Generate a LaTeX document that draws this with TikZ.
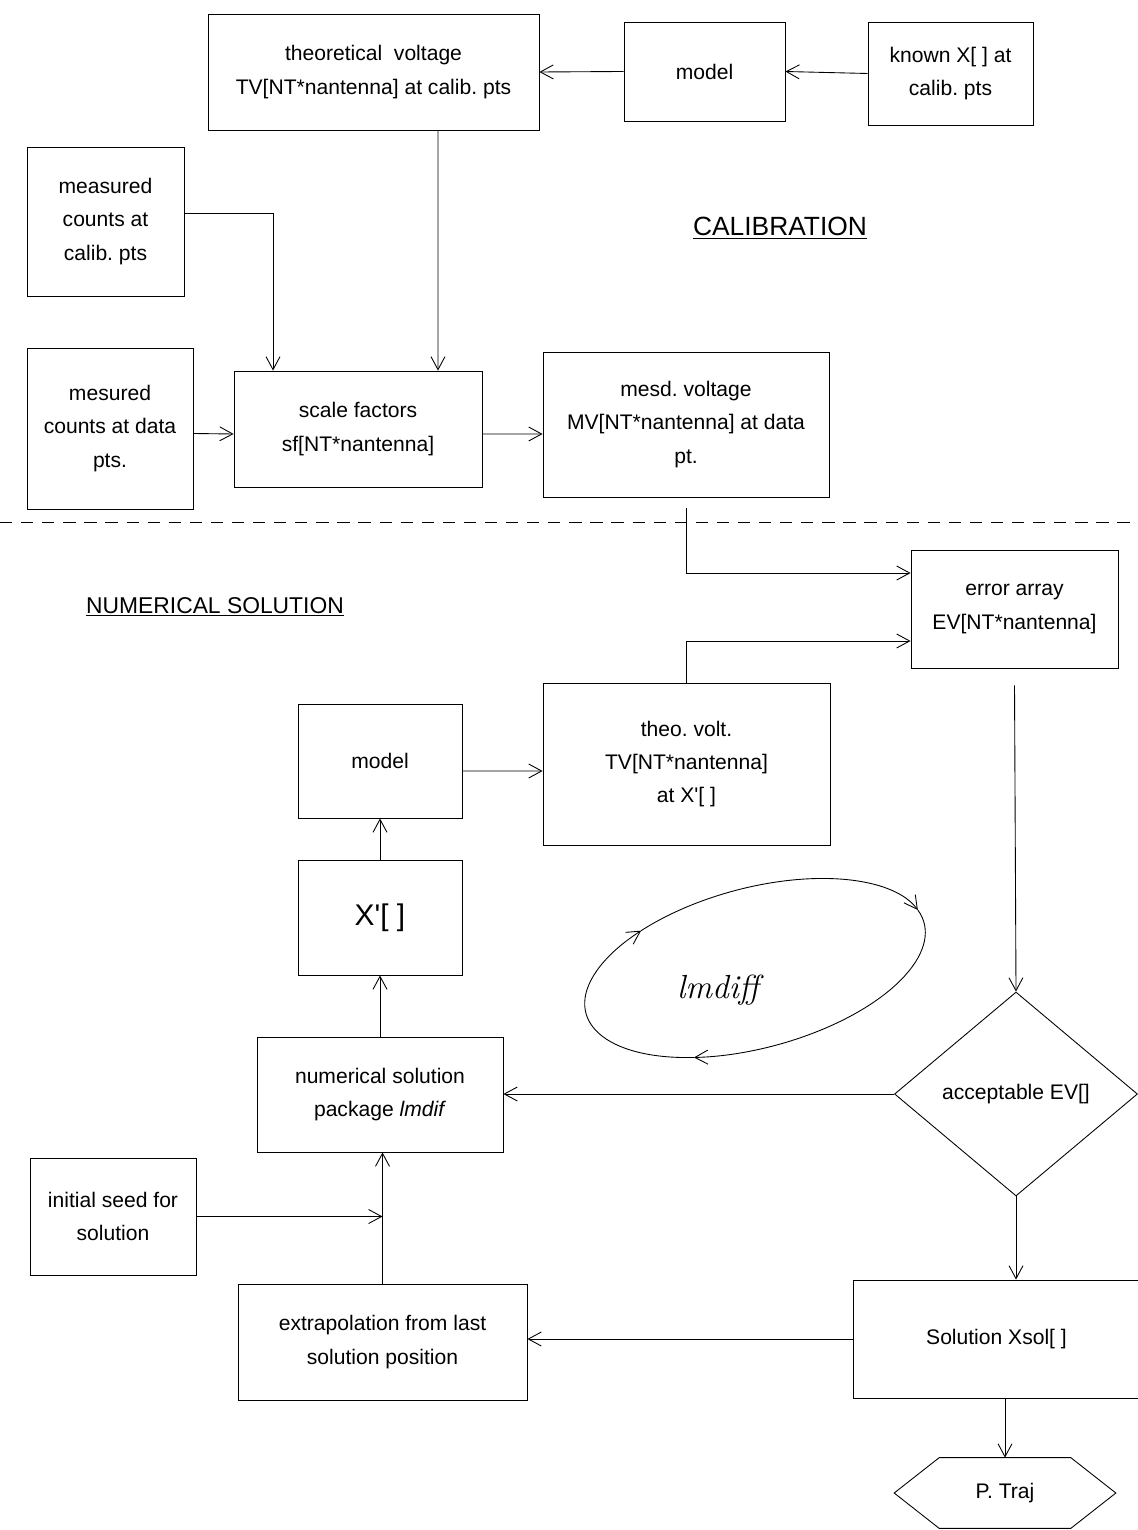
\documentclass[tikz,border=0pt]{standalone}
\usepackage{fontspec}
\setsansfont{Liberation Sans}
\usetikzlibrary{calc,
	positioning,
	shapes,
	arrows.meta}
\frenchspacing
\newcommand{\boxfont}{\sffamily\fontsize{12}{19}\selectfont}
\tikzstyle{blk}=[draw, line width=0.5pt, inner sep=2pt, align=center, font=\boxfont]
\tikzstyle{lbl}=[inner sep=0pt, align=center]
\tikzstyle{con}=[line width=0.5pt, ->]
\tikzstyle{dec}=[draw, shape=diamond, line width=0.5pt, inner sep=0pt, align=center, font=\boxfont]

\begin{document}
\begin{tikzpicture}[x=0.02cm, y=-0.02cm, >={Straight Barb[length=2.6mm,width=2.8mm]}]
\useasboundingbox (0,0) rectangle (1138,1530);

\node[blk, minimum width=6.62cm, minimum height=2.32cm] (tv) at (373.5,72) {theoretical\ \ voltage\\TV[NT*nantenna] at calib. pts};
\node[blk, minimum width=3.22cm, minimum height=1.98cm] (mdl1) at (704.5,71.5) {model};
\node[blk, minimum width=3.3cm, minimum height=2.06cm] (known) at (950.5,73.5) {known X[ ] at\\calib. pts};
\node[blk, minimum width=3.14cm, minimum height=2.98cm] (meas) at (105.5,221.5) {measured\\counts at\\calib. pts};
\node[blk, minimum width=3.32cm, minimum height=3.22cm] (mesured) at (110,428.5) {mesured\\counts at data\\pts.};
\node[blk, minimum width=4.96cm, minimum height=2.32cm] (scale) at (358,429) {scale factors\\sf[NT*nantenna]};
\node[blk, minimum width=5.72cm, minimum height=2.9cm] (mesd) at (686,424.5) {mesd. voltage\\MV[NT*nantenna] at data\\pt.};

\node[lbl, font=\sffamily\fontsize{15}{18}\selectfont] (cal) at (780,228) {\underline{CALIBRATION}};
\draw[line width=0.5pt, dash pattern=on 7pt off 5pt] (0,522) -- (1138,522);
\node[lbl, font=\sffamily\fontsize{13}{16}\selectfont] (num) at (215,607) {\underline{NUMERICAL SOLUTION}};

\node[blk, minimum width=4.14cm, minimum height=2.36cm] (error) at (1014.5,609) {error array\\EV[NT*nantenna]};
\node[blk, minimum width=3.28cm, minimum height=2.28cm] (mdl2) at (380,761) {model};
\node[blk, minimum width=5.74cm, minimum height=3.24cm] (theo) at (686.5,764) {theo. volt.\\TV[NT*nantenna]\\at X\textquotesingle[ ]};
\node[blk, minimum width=3.28cm, minimum height=2.3cm, font=\sffamily\fontsize{17}{20}\selectfont] (xp) at (380,917.5) {X\textquotesingle[ ]};
\node[blk, minimum width=4.92cm, minimum height=2.3cm] (pkg) at (380,1094.5) {numerical solution\\package \textit{lmdif}};
\node[blk, minimum width=3.32cm, minimum height=2.34cm] (seed) at (113,1216.5) {initial seed for\\solution};
\node[blk, minimum width=5.78cm, minimum height=2.32cm] (extrap) at (382.5,1342) {extrapolation from last\\solution position};
\node[dec, minimum width=4.86cm, minimum height=4.08cm] (acc) at (1016,1094) {acceptable EV[]};
\node[blk, minimum width=5.74cm, minimum height=2.36cm] (sol) at (996.5,1339) {Solution Xsol[ ]};
\node[lbl, minimum width=4.42cm, minimum height=1.4cm, font=\boxfont] (traj) at (1005,1493) {P. Traj};
\draw[line width=0.5pt] (traj.west) -- ($(traj.north west)+(45,0)$) -- ($(traj.north east)+(-45,0)$) -- (traj.east)
	-- ($(traj.south east)+(-45,0)$) -- ($(traj.south west)+(45,0)$) -- cycle;

\node[lbl, font=\rmfamily\itshape\fontsize{19}{22}\selectfont] (lm) at (718,990) {lmdiff};
\begin{scope}[shift={(755,968)}, rotate=15]
	\draw[con] (125:3.5cm and 1.6cm) arc[start angle=125, end angle=10, x radius=3.5cm, y radius=1.6cm];
	\draw[con] (10:3.5cm and 1.6cm) arc[start angle=10, end angle=-118, x radius=3.5cm, y radius=1.6cm];
	\draw[con] (-118:3.5cm and 1.6cm) arc[start angle=-118, end angle=-235, x radius=3.5cm, y radius=1.6cm];
\end{scope}

\draw[con] (mdl1.west) -- (tv.east);
\draw[con] (known.west) -- (mdl1.east);
\draw[con] ([xshift=1.29cm]tv.south) -- ([xshift=1.6cm]scale.north);
\draw[con] ([yshift=0.17cm]meas.east) -| ([xshift=-1.7cm]scale.north);
\draw[con] ([yshift=-0.1cm]mesured.east) -- ([yshift=-0.1cm]scale.west);
\draw[con] ([yshift=-0.1cm]scale.east) -- ([yshift=-0.19cm]mesd.west);
\draw[con] ([yshift=-0.22cm]mesd.south) |- ([yshift=0.72cm]error.west);
\draw[con] (theo.north) |- ([yshift=-0.64cm]error.west);
\draw[con] ([yshift=-0.2cm]mdl2.east) -- ([yshift=-0.14cm]theo.west);
\draw[con] (xp.north) -- (mdl2.south);
\draw[con] (pkg.north) -- (xp.south);
\draw[con] ([yshift=-0.34cm]error.south) -- (acc.north);
\draw[con] (acc.west) -- (acc.west -| pkg.east);
\draw[con] (acc.south) -- (acc.south |- sol.north);
\draw[con] (sol.west) -- (sol.west -| extrap.east);
\draw[con] (extrap.north) -- (extrap.north |- pkg.south);
\draw[con] (seed.east) -- (seed.east -| extrap.north);
\draw[con] (traj.north |- sol.south) -- (traj.north);
\end{tikzpicture}
\end{document}
